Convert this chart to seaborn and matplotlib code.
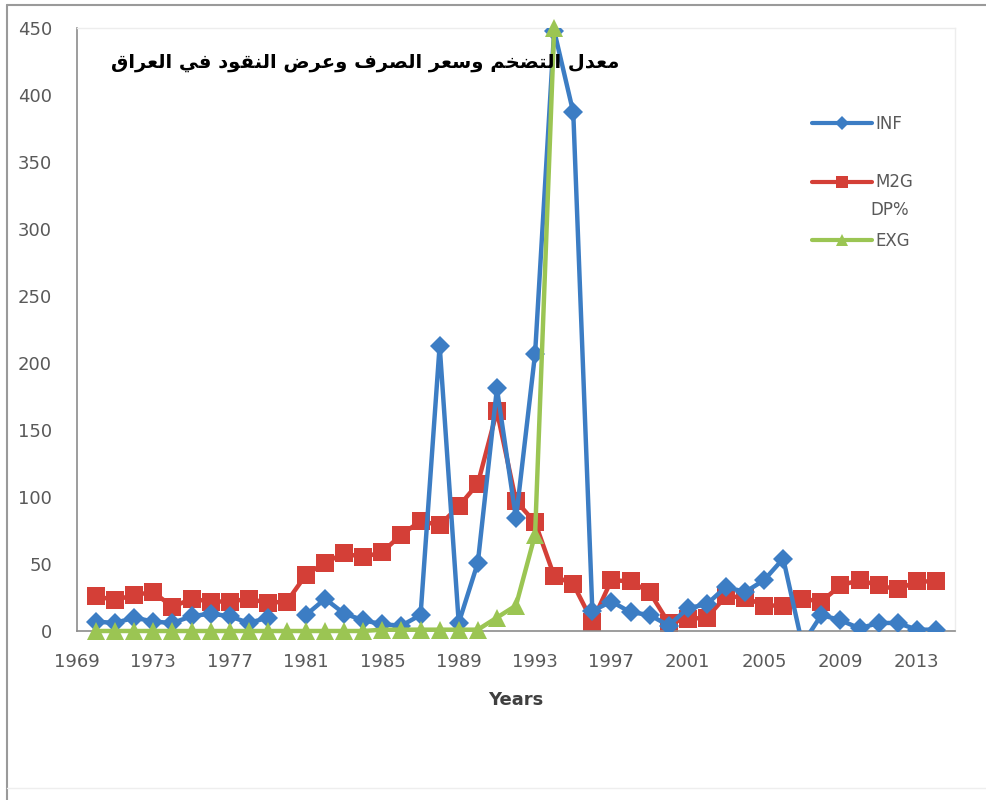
import numpy as np
import pandas as pd
import matplotlib
matplotlib.use("Agg")
import matplotlib.pyplot as plt
from matplotlib.lines import Line2D
import seaborn as sns

# ---------------- data ----------------
years = list(range(1970, 2015))
inf = [7, 6, 10, 7, 6, 11, 13, 11, 6, 10, np.nan, 12, 24, 13, 8, 5, 4, 12, 213, 6,
       51, 181, 84, 207, 448, 387, 15, 22, 14, 12, 4, 17, 20, 33, 29, 38, 54, -10, 12, 8,
       2, 6, 6, 1, 1]
m2g = [26, 23, 27, 29, 18, 24, 22, 22, 24, 21, 22, 42, 51, 58, 55, 59, 72, 82, 79, 93,
       110, 164, 97, 81, 41, 35, 7, 38, 37, 29, 6, 9, 10, 26, 25, 19, 19, 24, 22, 34,
       38, 34, 31, 37, 37]
exg_years = list(range(1970, 1995))
exg = [0, 0, 0, 0, 0, 0, 0, 0, 0, 0, 0, 0, 0, 0, 0, 1, 1, 1, 1, 1,
       1, 10, 19, 72, 450]
series_names = ["INF", "M2G", "EXG"]
xtick_years = list(range(1969, 2014, 4))
yticks = list(range(0, 451, 50))
title_ar = "معدل التضخم وسعر الصرف وعرض النقود في العراق"

# ---------------- Arabic shaping (contextual forms + visual order) ----------------
FORMS = {
    "ا": ("\uFE8D", "\uFE8E", None, None),
    "ت": ("\uFE95", "\uFE96", "\uFE97", "\uFE98"),
    "خ": ("\uFEA5", "\uFEA6", "\uFEA7", "\uFEA8"),
    "د": ("\uFEA9", "\uFEAA", None, None),
    "ر": ("\uFEAD", "\uFEAE", None, None),
    "س": ("\uFEB1", "\uFEB2", "\uFEB3", "\uFEB4"),
    "ص": ("\uFEB9", "\uFEBA", "\uFEBB", "\uFEBC"),
    "ض": ("\uFEBD", "\uFEBE", "\uFEBF", "\uFEC0"),
    "ع": ("\uFEC9", "\uFECA", "\uFECB", "\uFECC"),
    "ف": ("\uFED1", "\uFED2", "\uFED3", "\uFED4"),
    "ق": ("\uFED5", "\uFED6", "\uFED7", "\uFED8"),
    "ل": ("\uFEDD", "\uFEDE", "\uFEDF", "\uFEE0"),
    "م": ("\uFEE1", "\uFEE2", "\uFEE3", "\uFEE4"),
    "ن": ("\uFEE5", "\uFEE6", "\uFEE7", "\uFEE8"),
    "و": ("\uFEED", "\uFEEE", None, None),
    "ي": ("\uFEF1", "\uFEF2", "\uFEF3", "\uFEF4"),
}


def shape_arabic(s):
    out = []
    n = len(s)
    for i, ch in enumerate(s):
        if ch not in FORMS:
            out.append(ch)
            continue
        f = FORMS[ch]
        prev = s[i - 1] if i > 0 else ""
        nxt = s[i + 1] if i + 1 < n else ""
        jp = prev in FORMS and FORMS[prev][2] is not None
        jn = nxt in FORMS and f[2] is not None
        if jp and jn:
            out.append(f[3])
        elif jp:
            out.append(f[1])
        elif jn:
            out.append(f[2])
        else:
            out.append(f[0])
    return "".join(out)[::-1]


# ---------------- frames ----------------
inf_seg = [0 if y < 1980 else 1 for y in years]
df_inf = pd.DataFrame({"year": years, "value": inf, "seg": inf_seg}).dropna()
df_m2g = pd.DataFrame({"year": years, "value": m2g})
df_exg = pd.DataFrame({"year": exg_years, "value": exg})

c_inf = "#3C7DC4"
c_m2g = "#D43F37"
c_exg = "#9BC553"

sns.set_theme(style="white")
plt.rcParams["font.family"] = ["DejaVu Sans"]

fig = plt.figure(figsize=(9.87, 8.0), dpi=100)
ax = fig.add_axes([77 / 987, 1 - 631 / 800, (955 - 77) / 987, (631 - 28) / 800])

sns.lineplot(data=df_m2g, x="year", y="value", ax=ax, color=c_m2g, lw=3.2,
             marker="s", markersize=13, markeredgewidth=0, zorder=2)
sns.lineplot(data=df_inf, x="year", y="value", units="seg", estimator=None, ax=ax,
             color=c_inf, lw=3.2, marker="D", markersize=10.5, markeredgewidth=0, zorder=3)
sns.lineplot(data=df_exg, x="year", y="value", ax=ax, color=c_exg, lw=3.2,
             marker="^", markersize=13, markeredgewidth=0, zorder=4, clip_on=False)

ax.set_xlim(1969, 2015)
ax.set_ylim(0, 450)
ax.set_xticks(xtick_years)
ax.set_xticklabels([str(y) for y in xtick_years])
ax.set_yticks(yticks)
ax.tick_params(axis="both", length=0, labelsize=13, labelcolor="#595959")
ax.tick_params(axis="y", pad=18)
ax.tick_params(axis="x", pad=16)
ax.set_xlabel("Years", fontsize=13, fontweight="bold", color="#404040", labelpad=14)
ax.set_ylabel("")
ax.grid(False)
for side in ["left", "bottom"]:
    ax.spines[side].set_color("#8C8C8C")
    ax.spines[side].set_linewidth(1.2)
for side in ["top", "right"]:
    ax.spines[side].set_color("#EDEDED")
    ax.spines[side].set_linewidth(1.0)

# legend
handles = [
    Line2D([], [], color=c_inf, lw=3, marker="D", markersize=7, markeredgewidth=0),
    Line2D([], [], color=c_m2g, lw=3, marker="s", markersize=9, markeredgewidth=0),
    Line2D([], [], color=c_exg, lw=3, marker="^", markersize=8, markeredgewidth=0),
]
leg = ax.legend(handles, series_names, loc="upper left",
                bbox_to_anchor=((805 - 77) / 878, 1 - (108 - 28) / 603),
                frameon=False, fontsize=12, labelspacing=2.45, handlelength=3.6,
                handletextpad=0.2, borderaxespad=0)
for t in leg.get_texts():
    t.set_color("#595959")
fig.text(870 / 987, 1 - 210 / 800, "DP%", fontsize=12, color="#595959",
         ha="left", va="center")

# title (Arabic)
fig.text(365 / 987, 1 - 62 / 800, shape_arabic(title_ar), fontsize=14,
         fontweight="bold", color="black", ha="center", va="center",
         family=["DejaVu Sans"])

# outer frame of chart area
fig.add_artist(Line2D([7 / 987, 7 / 987], [0, 1 - 5 / 800], transform=fig.transFigure,
                      color="#9A9A9A", lw=1.5))
fig.add_artist(Line2D([7 / 987, 1], [1 - 5 / 800, 1 - 5 / 800], transform=fig.transFigure,
                      color="#9A9A9A", lw=1.5))
fig.add_artist(Line2D([7 / 987, 1], [1 - 788 / 800, 1 - 788 / 800], transform=fig.transFigure,
                      color="#EEEEEE", lw=1.0))

fig.savefig("out.png", dpi=100, facecolor="white")
